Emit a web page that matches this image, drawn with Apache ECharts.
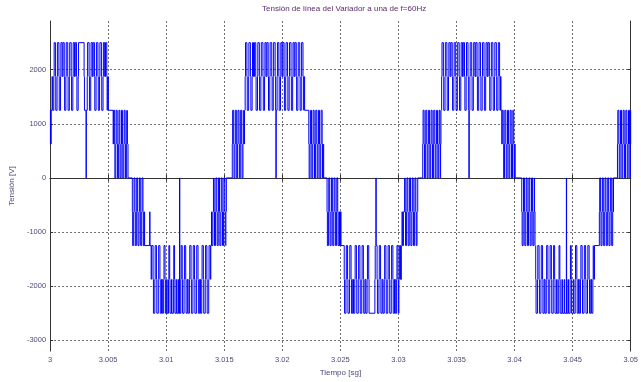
<!DOCTYPE html>
<html>
<head>
<meta charset="utf-8">
<script src="https://cdn.jsdelivr.net/npm/echarts@6/dist/echarts.min.js"></script>
<style>
html,body{margin:0;padding:0;background:#fff;}
#chart{width:641px;height:382px;}
</style>
</head>
<body>
<div id="chart"></div>
<script>
// ---------------- data ----------------
const chartTitle = 'Tensión de línea del Variador a una de f=60Hz';
const xName = 'Tiempo [sg]';
const yName = 'Tensión [V]';
const tStart = 3;            // s
const tEnd = 3.05;           // s
const xTickStep = 0.005;
const yMin = -3200, yMax = 2900;
const yTicks = [-3000, -2000, -1000, 0, 1000, 2000];
// voltage levels of the line voltage (index = level + 4)
const levels = [-2500, -1875, -1250, -625, 0, 625, 1250, 1875, 2500];

// switching edges: [time in ms after 3 s, level after the edge]
const halfP1 = [[0,1],[0.03,2],[0.06,1],[0.09,2],
 [0.17,3],[0.22,2],[0.32,3],[0.35,4],[0.46,3],[0.49,2],[0.60,3],[0.63,4],[0.76,3],[0.79,2],[0.90,3],[0.93,4],[1.04,3],[1.11,4],[1.22,3],[1.25,2],
 [1.36,3],[1.39,4],[1.52,3],[1.55,2],[1.66,3],[1.69,4],[1.82,3],[1.85,2],[1.96,3],[1.99,4],[2.10,3],[2.17,4],[2.28,3],[2.31,2],[2.42,3],[2.45,4],
 [2.93,3],[2.96,2],[3.10,0],[3.12,2],[3.20,3],[3.23,4],[3.36,3],[3.39,2],[3.50,3],[3.53,4],[3.64,3],[3.71,4],[3.82,3],[3.85,2],[3.96,3],[3.99,4],[4.12,3],[4.15,2],
 [4.26,3],[4.29,4],[4.42,3],[4.45,2],[4.56,3],[4.59,4],[4.70,3],[4.77,4],[4.88,3],[4.91,2],[4.96,3],[5.02,2],
 [5.43,1],[5.47,2],[5.56,1],[5.58,0],[5.66,1],[5.69,2],[5.78,1],[5.81,0],[5.90,1],[5.93,2],[6.01,1],[6.03,0],[6.12,1],[6.15,2],[6.23,1],[6.26,0],[6.35,1],[6.38,2],[6.46,1],[6.49,0],[6.57,1],[6.60,2],[6.66,1],[6.71,0]];
const halfN1 = [[7.08,-1],[7.11,-2],[7.20,-1],[7.23,0],[7.31,-1],[7.34,-2],[7.43,-1],[7.46,0],[7.54,-1],[7.57,-2],[7.66,-1],[7.69,0],[7.77,-1],[7.80,-2],[7.89,-1],[7.92,0],[8.00,-1],[8.03,-2],[8.10,-1],[8.14,-2],[8.58,-1],[8.60,-2],
 [8.70,-3],[8.75,-2],[8.87,-3],[8.90,-4],[9.02,-3],[9.05,-2],[9.16,-3],[9.19,-4],[9.32,-3],[9.35,-2],[9.46,-3],[9.49,-4],[9.60,-3],[9.67,-4],[9.78,-3],[9.81,-2],
 [9.90,-3],[9.93,-4],[10.04,-3],[10.08,-4],[10.20,-3],[10.23,-2],[10.30,-3],[10.33,-4],[10.45,-3],[10.49,-4],[10.62,-3],[10.65,-2],[10.72,-3],[10.75,-4],[10.87,-3],[10.91,-4],[11.03,-3],[11.07,-4],[11.15,0],[11.17,-4],
 [11.26,-3],[11.29,-2],[11.38,-3],[11.41,-4],[11.54,-3],[11.57,-2],[11.68,-3],[11.71,-4],[11.82,-3],[11.89,-4],[12.00,-3],[12.03,-2],[12.14,-3],[12.17,-4],[12.30,-3],[12.33,-2],
 [12.44,-3],[12.47,-4],[12.60,-3],[12.63,-2],[12.74,-3],[12.77,-4],[12.88,-3],[12.95,-4],[13.06,-3],[13.09,-2],[13.20,-3],[13.23,-4],[13.36,-3],[13.39,-2],[13.50,-3],[13.53,-4],[13.66,-3],[13.69,-2],[13.80,-3],[13.84,-2],
 [13.90,-1],[13.93,-2],[14.02,-1],[14.07,0],[14.13,-1],[14.16,-2],[14.25,-1],[14.28,0],[14.36,-1],[14.39,-2],[14.48,-1],[14.51,0],[14.59,-1],[14.62,-2],[14.71,-1],[14.74,0],[14.82,-1],[14.85,-2],[14.94,-1],[14.97,0],[15.05,-1],[15.08,-2],[15.14,-1],[15.18,0]];
const halfP2 = [[15.69,1],[15.72,2],[15.81,1],[15.84,0],[15.92,1],[15.95,2],[16.04,1],[16.07,0],[16.15,1],[16.18,2],[16.27,1],[16.30,0],[16.38,1],[16.41,2],[16.50,1],[16.53,0],[16.61,1],[16.64,2],[16.70,1],[16.74,2],
 [16.80,3],[16.83,4],[16.95,3],[16.98,2],[17.10,3],[17.12,4],[17.25,3],[17.29,2],[17.40,3],[17.43,4],[17.52,3],[17.60,4],[17.71,3],[17.74,2],[17.86,3],[17.89,4],[18.02,3],[18.04,2],
 [18.15,3],[18.19,4],[18.33,3],[18.36,2],[18.47,3],[18.50,4],[18.60,3],[18.67,4],[18.78,3],[18.81,2],[18.92,3],[18.95,4],[19.09,3],[19.12,2],[19.22,3],[19.25,4],[19.38,3],[19.42,2],[19.45,0],[19.47,2],
 [19.55,3],[19.58,4],[19.70,3],[19.73,2],[19.84,3],[19.87,4],[19.97,3],[20.04,4],[20.15,3],[20.18,2],[20.29,3],[20.32,4],[20.45,3],[20.48,2],[20.59,3],[20.62,4],[20.75,3],[20.78,2],
 [20.89,3],[20.92,4],[21.02,3],[21.09,4],[21.20,3],[21.23,2],[21.34,3],[21.37,4],[21.50,3],[21.53,2],[21.63,3],[21.66,4],[21.78,3],[21.81,2],[21.87,3],[21.92,2],
 [22.28,1],[22.31,0],[22.39,1],[22.42,2],[22.51,1],[22.54,0],[22.62,1],[22.65,2],[22.74,1],[22.77,0],[22.85,1],[22.88,2],[22.97,1],[23.00,0],[23.08,1],[23.11,2],[23.20,1],[23.23,0],[23.31,1],[23.34,2],[23.43,1],[23.46,0],[23.52,1],[23.56,0]];
const halfN2 = [[23.85,-1],[23.88,-2],[23.97,-1],[24.00,0],[24.08,-1],[24.11,-2],[24.20,-1],[24.23,0],[24.31,-1],[24.34,-2],[24.43,-1],[24.46,0],[24.54,-1],[24.57,-2],[24.66,-1],[24.69,0],[24.77,-1],[24.80,-2],[24.89,-1],[24.92,-2],[24.96,-1],[24.99,-2],[25.02,-1],[25.05,-2],
 [25.33,-3],[25.36,-4],[25.48,-3],[25.51,-2],[25.62,-3],[25.65,-4],[25.78,-3],[25.81,-2],[25.92,-3],[25.95,-4],[26.06,-3],[26.13,-4],[26.24,-3],[26.27,-2],[26.38,-3],[26.41,-4],[26.54,-3],[26.57,-2],
 [26.68,-3],[26.71,-4],[26.84,-3],[26.87,-2],[26.98,-3],[27.01,-4],[27.12,-3],[27.19,-4],[27.30,-3],[27.33,-2],[27.44,-3],[27.47,-4],
 [27.97,-3],[28.00,-2],[28.06,0],[28.08,-2],[28.16,-3],[28.19,-4],[28.32,-3],[28.35,-2],[28.46,-3],[28.49,-4],[28.60,-3],[28.67,-4],[28.78,-3],[28.81,-2],[28.92,-3],[28.95,-4],[29.08,-3],[29.11,-2],
 [29.22,-3],[29.25,-4],[29.38,-3],[29.41,-2],[29.52,-3],[29.55,-4],[29.66,-3],[29.73,-4],[29.84,-3],[29.87,-2],[29.96,-3],[29.99,-4],[30.04,-3],[30.10,-2],[30.18,-3],[30.25,-2],
 [30.31,-1],[30.34,-2],[30.43,-1],[30.53,0],[30.58,-1],[30.61,-2],[30.70,-1],[30.73,0],[30.81,-1],[30.84,-2],[30.93,-1],[30.96,0],[31.04,-1],[31.07,-2],[31.16,-1],[31.19,0],[31.27,-1],[31.30,-2],[31.39,-1],[31.42,0],[31.50,-1],[31.53,-2],[31.60,-1],[31.66,0]];
const halfP3 = [[32.09,1],[32.12,2],[32.21,1],[32.24,0],[32.32,1],[32.35,2],[32.44,1],[32.47,0],[32.55,1],[32.58,2],[32.67,1],[32.70,0],[32.78,1],[32.81,2],[32.90,1],[32.93,0],[33.01,1],[33.04,2],[33.13,1],[33.16,0],[33.24,1],[33.27,2],[33.36,1],[33.39,0],[33.47,1],[33.50,2],[33.57,1],[33.60,0],[33.63,1],[33.66,2],
 [33.72,3],[33.75,4],[33.87,3],[33.90,2],[34.01,3],[34.04,4],[34.17,3],[34.20,2],[34.31,3],[34.34,4],[34.45,3],[34.52,4],[34.63,3],[34.66,2],[34.77,3],[34.80,4],[34.93,3],[34.96,2],
 [35.07,3],[35.10,4],[35.23,3],[35.26,2],[35.37,3],[35.40,4],[35.51,3],[35.58,4],[35.69,3],[35.72,2],[35.83,3],[35.86,4],[35.99,3],[36.02,2],[36.07,0],[36.09,2],
 [36.15,3],[36.18,4],[36.31,3],[36.34,2],[36.45,3],[36.48,4],[36.59,3],[36.66,4],[36.77,3],[36.80,2],[36.91,3],[36.94,4],[37.07,3],[37.10,2],[37.21,3],[37.24,4],[37.37,3],[37.40,2],
 [37.51,3],[37.54,4],[37.65,3],[37.72,4],[37.83,3],[37.86,2],[37.97,3],[38.00,4],[38.13,3],[38.16,2],[38.27,3],[38.30,4],[38.43,3],[38.46,2],[38.57,3],[38.60,4],[38.71,3],[38.74,2],[38.78,3],[38.83,2],
 [38.90,1],[38.93,2],[39.02,1],[39.06,0],[39.13,1],[39.16,2],[39.25,1],[39.28,0],[39.36,1],[39.39,2],[39.48,1],[39.51,0],[39.59,1],[39.62,2],[39.71,1],[39.74,0],[39.82,1],[39.85,2],[39.93,1],[39.96,0],[40.01,1],[40.05,0]];
const halfN3 = [[40.62,-1],[40.65,-2],[40.74,-1],[40.77,0],[40.85,-1],[40.88,-2],[40.97,-1],[41.00,0],[41.08,-1],[41.11,-2],[41.20,-1],[41.23,0],[41.31,-1],[41.34,-2],[41.43,-1],[41.46,0],[41.54,-1],[41.57,-2],[41.66,-1],[41.69,0],[41.72,-1],[41.76,-2],
 [41.82,-3],[41.85,-4],[41.97,-3],[42.00,-2],[42.11,-3],[42.14,-4],[42.27,-3],[42.30,-2],[42.41,-3],[42.44,-4],[42.55,-3],[42.62,-4],[42.73,-3],[42.76,-2],[42.87,-3],[42.90,-4],[43.03,-3],[43.06,-2],
 [43.17,-3],[43.20,-4],[43.33,-3],[43.36,-2],[43.45,-3],[43.48,-4],[43.62,-3],[43.66,-4],[43.80,-3],[43.83,-2],[43.90,-3],[43.93,-4],[44.08,-3],[44.12,-4],[44.27,-3],[44.31,-4],[44.46,0],[44.48,-4],
 [44.60,-3],[44.64,-4],[44.78,-3],[44.81,-2],[44.88,-3],[44.91,-4],[45.06,-3],[45.10,-4],[45.22,-3],[45.25,-2],[45.36,-3],[45.39,-4],[45.50,-3],[45.57,-4],[45.68,-3],[45.71,-2],
 [45.82,-3],[45.85,-4],[45.98,-3],[46.01,-2],[46.12,-3],[46.15,-4],[46.28,-3],[46.31,-2],[46.42,-3],[46.45,-4],[46.56,-3],[46.63,-4],[46.74,-3],[46.77,-2],[46.83,-3],[46.88,-2],
 [47.30,-1],[47.33,0],[47.41,-1],[47.44,-2],[47.53,-1],[47.56,0],[47.64,-1],[47.67,-2],[47.76,-1],[47.79,0],[47.87,-1],[47.90,-2],[47.99,-1],[48.02,0],[48.10,-1],[48.13,-2],[48.22,-1],[48.25,0],[48.33,-1],[48.36,-2],[48.45,-1],[48.48,0],[48.50,-1],[48.52,0]];
const halfP4 = [[48.86,1],[48.89,2],[48.98,1],[49.01,0],[49.09,1],[49.12,2],[49.21,1],[49.24,0],[49.32,1],[49.35,2],[49.44,1],[49.47,0],[49.55,1],[49.58,2],[49.67,1],[49.70,0],[49.78,1],[49.81,2],[49.90,1],[49.93,0],[49.96,1],[50.00,2]];

// ---------------- build the series ----------------
// each dwell (horizontal) and each switching edge (vertical) is drawn as its own
// short piece so that no sub-pixel segment gets merged into a slanted stroke
const halves = [halfP1, halfN1, halfP2, halfN2, halfP3, halfN3, halfP4];
const data = [];
let prevT = null, prevV = null;
halves.forEach(h => h.forEach(e => {
  const t = tStart + e[0] / 1000;
  const v = levels[e[1] + 4];
  if (prevT !== null) {
    data.push([prevT, prevV], [t, prevV], [t, '-']);
    data.push([t, prevV], [t, v], [t, '-']);
  }
  prevT = t; prevV = v;
}));
data.push([prevT, prevV], [tEnd, prevV]);

const FONT = '"Liberation Sans", Arial, sans-serif';
const labelColor = '#4b4b78';
const axisCol = '#333333';
const gridCol = '#6e6e6e';

const chart = echarts.init(document.getElementById('chart'), null, {renderer: 'canvas'});
const option = {
  animation: false,
  backgroundColor: '#ffffff',
  title: {
    text: chartTitle,
    left: 262,
    top: 5,
    padding: 0,
    textStyle: {fontFamily: FONT, fontSize: 8, fontWeight: 'normal', color: '#5c2a6e'}
  },
  grid: {left: 47, right: 8, top: 21, bottom: 27, containLabel: false},
  xAxis: [{
    type: 'value', min: tStart, max: tEnd, interval: xTickStep,
    name: xName, nameLocation: 'middle', nameGap: 13,
    nameTextStyle: {fontFamily: FONT, fontSize: 8, color: labelColor},
    axisLine: {show: true, lineStyle: {color: axisCol, width: 1}},
    axisTick: {show: true, inside: true, length: 3, lineStyle: {color: axisCol}},
    axisLabel: {fontFamily: FONT, fontSize: 7.5, color: labelColor, margin: 5,
      formatter: v => String(+v.toFixed(3))},
    splitLine: {show: true, lineStyle: {color: gridCol, type: [2, 2], width: 1}}
  }, {
    type: 'value', min: tStart, max: tEnd, interval: xTickStep, position: 'top',
    axisLine: {show: true, lineStyle: {color: axisCol, width: 1}},
    axisTick: {show: true, inside: true, length: 3, lineStyle: {color: axisCol}},
    axisLabel: {show: false}, splitLine: {show: false}
  }],
  yAxis: [{
    type: 'value', min: yMin, max: yMax, splitNumber: 6,
    name: yName, nameLocation: 'middle', nameGap: 23, nameRotate: 90,
    nameTextStyle: {fontFamily: FONT, fontSize: 8, color: labelColor},
    axisLine: {show: true, lineStyle: {color: axisCol, width: 1}},
    axisTick: {show: true, inside: true, length: 3, lineStyle: {color: axisCol}, customValues: yTicks},
    axisLabel: {fontFamily: FONT, fontSize: 7.5, color: labelColor, margin: 4, customValues: yTicks,
      formatter: v => String(v)},
    splitLine: {show: true, lineStyle: {color: gridCol, type: [2, 2], width: 1}}
  }, {
    type: 'value', min: yMin, max: yMax, position: 'right',
    axisLine: {show: true, lineStyle: {color: axisCol, width: 1}},
    axisTick: {show: true, inside: true, length: 3, lineStyle: {color: axisCol}, customValues: yTicks},
    axisLabel: {show: false}, splitLine: {show: false}
  }],
  series: [{
    type: 'line',
    data: data,
    connectNulls: false,
    showSymbol: false,
    symbol: 'none',
    sampling: null,
    lineStyle: {color: '#0000ff', width: 1},
    emphasis: {disabled: true},
    silent: true
  }]
};
chart.setOption(option);
</script>
</body>
</html>
